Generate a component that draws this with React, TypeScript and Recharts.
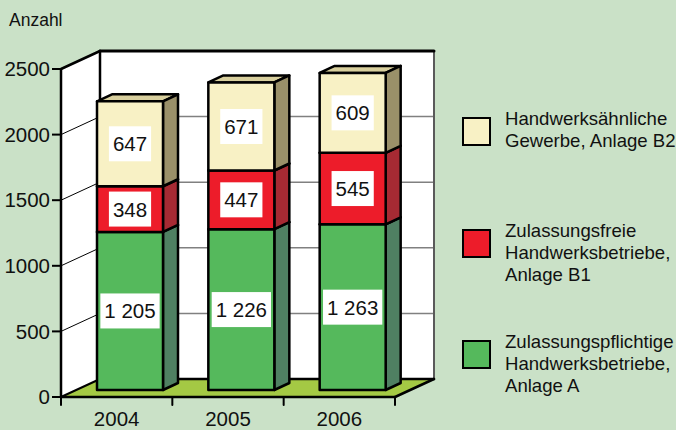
import React from 'react';
import { BarChart, Bar, XAxis, YAxis, ReferenceArea, LabelList, Legend } from 'recharts';

const years = ['2004', '2005', '2006'];
const anlageA = [1205, 1226, 1263];
const anlageB1 = [348, 447, 545];
const anlageB2 = [647, 671, 609];
const yTicks = [0, 500, 1000, 1500, 2000, 2500];

const legendLabels = [
  ['Handwerksähnliche', 'Gewerbe, Anlage B2'],
  ['Zulassungsfreie', 'Handwerksbetriebe,', 'Anlage B1'],
  ['Zulassungspflichtige', 'Handwerksbetriebe,', 'Anlage A'],
];

const data = years.map((year, i) => ({ year, a: anlageA[i], b1: anlageB1[i], b2: anlageB2[i] }));

// 3d look
const WALL_DX = 39;
const WALL_DY = -18;
const BAR_DX = 13;
const BAR_DY = -7;
const DEPTH_DX = 15;
const DEPTH_DY = -7;

const colors = {
  a: { front: '#55b95c', side: '#4f8062', top: '#3f9a48' },
  b1: { front: '#ed1c2a', side: '#a62a33', top: '#c01a25' },
  b2: { front: '#f8f1c5', side: '#9a9069', top: '#d8cf9d' },
};
const legendColors = [colors.b2.front, colors.b1.front, colors.a.front];

const fmt = (v: number) => (v >= 1000 ? `${Math.floor(v / 1000)} ${String(v % 1000).padStart(3, '0')}` : String(v));
const textWidth = (s: string, fs: number) =>
  s.split('').reduce((w, c) => w + (c === ' ' ? 0.278 : 0.556), 0) * fs;

const Bar3D: React.FC<any> = (props) => {
  const { x, y, width, height, face } = props;
  if (!height) return null;
  const X = x + BAR_DX;
  const Y = y + BAR_DY;
  const w = width;
  const h = height;
  return (
    <g stroke="#000" strokeWidth={2.5} strokeLinejoin="round">
      <polygon
        points={`${X},${Y} ${X + DEPTH_DX},${Y + DEPTH_DY} ${X + w + DEPTH_DX},${Y + DEPTH_DY} ${X + w},${Y}`}
        fill={face.top}
      />
      <polygon
        points={`${X + w},${Y} ${X + w + DEPTH_DX},${Y + DEPTH_DY} ${X + w + DEPTH_DX},${Y + h + DEPTH_DY} ${X + w},${Y + h}`}
        fill={face.side}
      />
      <rect x={X} y={Y} width={w} height={h} fill={face.front} />
    </g>
  );
};

const ValueBox: React.FC<any> = (props) => {
  const vb = props.viewBox && props.viewBox.width != null ? props.viewBox : props;
  const { x, y, width, height } = vb;
  const value = props.value;
  if (value == null) return null;
  const txt = fmt(Number(value));
  const cx = x + width / 2 + BAR_DX;
  const cy = y + height / 2 + BAR_DY;
  const tw = textWidth(txt, 20.5);
  return (
    <g>
      <rect x={cx - tw / 2 - 4} y={cy - 17.5} width={tw + 8} height={35} fill="#fff" />
      <text x={cx} y={cy + 7.5} textAnchor="middle" fontSize={20.5} fill="#111">
        {txt}
      </text>
    </g>
  );
};

const Walls: React.FC<any> = (props) => {
  const { x, y, width: w, height: h } = props;
  const bottom = y + h;
  const yMax = yTicks[yTicks.length - 1];
  const n = years.length;
  return (
    <g>
      <polygon points={`${x},${y} ${x + WALL_DX},${y + WALL_DY} ${x + WALL_DX},${bottom + WALL_DY} ${x},${bottom}`} fill="#fff" />
      <rect x={x + WALL_DX} y={y + WALL_DY} width={w} height={h} fill="#fff" />
      <polygon
        points={`${x},${bottom} ${x + WALL_DX},${bottom + WALL_DY} ${x + w + WALL_DX},${bottom + WALL_DY} ${x + w},${bottom}`}
        fill="#a4c944"
      />
      {yTicks.slice(1, -1).map((v) => {
        const gy = bottom - (v / yMax) * h;
        return (
          <g key={v}>
            <line x1={x + WALL_DX} y1={gy + WALL_DY} x2={x + w + WALL_DX} y2={gy + WALL_DY} stroke="#808080" strokeWidth={1.5} />
            <line x1={x} y1={gy} x2={x + WALL_DX} y2={gy + WALL_DY} stroke="#000" strokeWidth={1} />
          </g>
        );
      })}
      <line x1={x + w + WALL_DX} y1={y + WALL_DY} x2={x + w + WALL_DX} y2={bottom + WALL_DY} stroke="#5a5a5a" strokeWidth={2} />
      <g stroke="#000" strokeLinecap="round">
        <line x1={x} y1={y} x2={x + WALL_DX} y2={y + WALL_DY} strokeWidth={2.5} />
        <line x1={x + WALL_DX} y1={y + WALL_DY} x2={x + w + WALL_DX} y2={y + WALL_DY} strokeWidth={3} />
        <line x1={x + WALL_DX} y1={y + WALL_DY} x2={x + WALL_DX} y2={bottom + WALL_DY} strokeWidth={2.5} />
        <line x1={x + WALL_DX} y1={bottom + WALL_DY} x2={x + w + WALL_DX} y2={bottom + WALL_DY} strokeWidth={2.5} />
        <line x1={x + w} y1={bottom} x2={x + w + WALL_DX} y2={bottom + WALL_DY} strokeWidth={2.5} />
        <line x1={x} y1={bottom} x2={x + WALL_DX} y2={bottom + WALL_DY} strokeWidth={2} />
        {Array.from({ length: n + 1 }, (_, i) => (
          <line key={i} x1={x + (i * w) / n} y1={bottom} x2={x + (i * w) / n} y2={bottom + 8} strokeWidth={2} />
        ))}
      </g>
    </g>
  );
};

const LegendBox: React.FC = () => (
  <div style={{ fontSize: 18.6, color: '#111', whiteSpace: 'nowrap' }}>
    {legendLabels.map((lines, i) => (
      <div key={i} style={{ display: 'flex', alignItems: 'flex-start', height: 111.5 }}>
        <div
          style={{
            marginTop: 9,
            width: 29,
            height: 29,
            flexShrink: 0,
            boxSizing: 'border-box',
            border: '2.5px solid #000',
            background: legendColors[i],
          }}
        />
        <div style={{ marginLeft: 14, lineHeight: '22px' }}>
          {lines.map((l) => (
            <div key={l}>{l}</div>
          ))}
        </div>
      </div>
    ))}
  </div>
);

const AxisTitle: React.FC<any> = (props) => {
  const vb = props.viewBox || { x: 0, y: 69 };
  return (
    <text x={vb.x + 9} y={vb.y - 43} fontSize={17.5} fill="#111">
      Anzahl
    </text>
  );
};

const App: React.FC = () => {
  return (
    <div
      style={{
        width: 676,
        height: 430,
        background: '#cae1c7',
        overflow: 'hidden',
        position: 'relative',
        fontFamily: '"Liberation Sans", Arial, sans-serif',
      }}
    >
      <style>{'body{margin:0}'}</style>
      <BarChart width={676} height={430} data={data} margin={{ top: 69, right: 281, left: 0, bottom: 0 }}>
        <ReferenceArea y1={0} y2={2500} shape={<Walls />} ifOverflow="visible" />
        <XAxis
          dataKey="year"
          height={33}
          tickLine={false}
          tickSize={8}
          tickMargin={6}
          axisLine={{ stroke: '#000', strokeWidth: 2.5 }}
          tick={{ fill: '#111', fontSize: 20.5 }}
        />
        <YAxis
          width={61}
          domain={[0, 2500]}
          ticks={yTicks}
          tickSize={9}
          tickMargin={2}
          axisLine={{ stroke: '#000', strokeWidth: 2.5 }}
          tickLine={{ stroke: '#000', strokeWidth: 2 }}
          tick={{ fill: '#111', fontSize: 20.5 }}
          label={<AxisTitle />}
        />
        <Legend
          verticalAlign="middle"
          layout="horizontal"
          wrapperStyle={{ left: 462, top: 108, width: 260 }}
          content={() => <LegendBox />}
        />
        <Bar dataKey="a" stackId="s" barSize={66} isAnimationActive={false} shape={(p: any) => <Bar3D {...p} face={colors.a} />}>
          <LabelList dataKey="a" content={<ValueBox />} />
        </Bar>
        <Bar dataKey="b1" stackId="s" barSize={66} isAnimationActive={false} shape={(p: any) => <Bar3D {...p} face={colors.b1} />}>
          <LabelList dataKey="b1" content={<ValueBox />} />
        </Bar>
        <Bar dataKey="b2" stackId="s" barSize={66} isAnimationActive={false} shape={(p: any) => <Bar3D {...p} face={colors.b2} />}>
          <LabelList dataKey="b2" content={<ValueBox />} />
        </Bar>
      </BarChart>
    </div>
  );
};

export default App;
